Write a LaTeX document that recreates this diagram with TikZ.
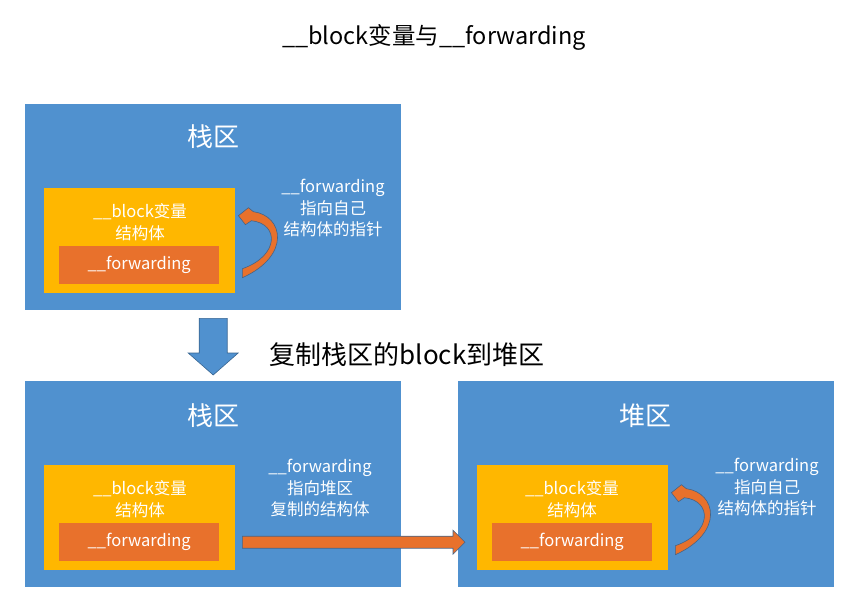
\documentclass[tikz,border=0pt]{standalone}
\usepackage{fontspec}
\setmainfont{Noto Sans CJK SC}
\usetikzlibrary{calc}

\definecolor{areablue}{RGB}{80,145,207}
\definecolor{structyellow}{RGB}{255,183,0}
\definecolor{ptrorange}{RGB}{232,113,44}
\definecolor{edgegrey}{RGB}{70,100,135}

\tikzset{
  area/.style={fill=areablue, minimum width=376, minimum height=206, anchor=north west, inner sep=0},
  struct/.style={fill=structyellow, minimum width=191, minimum height=105, anchor=north west, inner sep=0},
  fwd/.style={fill=ptrorange, text=white, minimum width=160, minimum height=38, anchor=north west, inner sep=0, font=\fontsize{16.5}{20}\selectfont},
  note/.style={text=white, align=center, font=\fontsize{16.5}{21.5}\selectfont},
  areatitle/.style={text=white, font=\fontsize{26}{30}\selectfont},
  fatarrow/.style={fill=ptrorange, draw=edgegrey, line width=0.6pt, line join=miter},
  copyarrow/.style={fill=areablue, draw=areablue!70!black, line width=0.6pt, line join=miter},
  selfptr/.pic={
    \path[fatarrow] (0,0) -- (10,-8) -- (15,-4) .. controls (45,0) and (53,40) .. (4,62)
      -- (4,53) .. controls (41,40) and (41,8) .. (13,5) -- (7,9) -- cycle;
  }
}

\begin{document}
\begin{tikzpicture}[x=1pt, y=-1pt]
  \useasboundingbox (0,0) rectangle (859,610);

  \node[font=\fontsize{23.5}{28}\selectfont] (title) at (434,37) {\_\_block变量与\_\_forwarding};

  % stack, before copy
  \node[area] (stackA) at (25,104) {};
  \node[areatitle] (stackAT) at (213,137) {栈区};
  \node[struct] (ylwA) at (44,188) {};
  \node[note] (ylwAT) at (140,222) {\_\_block变量\\结构体};
  \node[fwd] (fwdA) at (59,246) {\_\_forwarding};
  \node[note] (noteA) at (333,208) {\_\_forwarding\\指向自己\\结构体的指针};
  \pic at ($(ylwA.east)+(3,-25)$) {selfptr};

  % copy step
  \coordinate (dnTop) at ($(stackA.south)+(0,8)$);
  \node[area] (stackB) at (25,381) {};
  \coordinate (dnTip) at ($(stackB.north)+(0,-6)$);
  \path[copyarrow] ($(dnTop)+(-14,0)$) -- ($(dnTip)+(-14,-22)$) -- ($(dnTip)+(-25,-22)$) -- (dnTip)
    -- ($(dnTip)+(25,-22)$) -- ($(dnTip)+(14,-22)$) -- ($(dnTop)+(14,0)$) -- cycle;
  \node[font=\fontsize{26}{30}\selectfont] (copyT) at (407,355) {复制栈区的block到堆区};

  % stack, after copy
  \node[areatitle] (stackBT) at (213,416) {栈区};
  \node[struct] (ylwB) at (44,465) {};
  \node[note] (ylwBT) at (140,499) {\_\_block变量\\结构体};
  \node[fwd] (fwdB) at (59,523) {\_\_forwarding};
  \node[note] (noteB) at (320,488) {\_\_forwarding\\指向堆区\\复制的结构体};

  % heap
  \node[area] (heap) at (458,381) {};
  \node[areatitle] (heapT) at (645,416) {堆区};
  \node[struct] (ylwC) at (477,465) {};
  \node[note] (ylwCT) at (572,499) {\_\_block变量\\结构体};
  \node[fwd] (fwdC) at (492,523) {\_\_forwarding};
  \node[note] (noteC) at (767,487) {\_\_forwarding\\指向自己\\结构体的指针};
  \pic at ($(ylwC.east)+(3,-25)$) {selfptr};

  % stack forwarding -> heap copy
  \coordinate (fwTail) at ($(fwdB.east -| ylwB.east)+(7,0)$);
  \coordinate (fwTip) at ($(fwdB.east -| ylwC.west)+(-12,0)$);
  \path[fatarrow] ($(fwTail)+(0,-6)$) -- ($(fwTip)+(-12,-6)$) -- ($(fwTip)+(-12,-12)$) -- (fwTip)
    -- ($(fwTip)+(-12,12)$) -- ($(fwTip)+(-12,6)$) -- ($(fwTail)+(0,6)$) -- cycle;
\end{tikzpicture}
\end{document}
